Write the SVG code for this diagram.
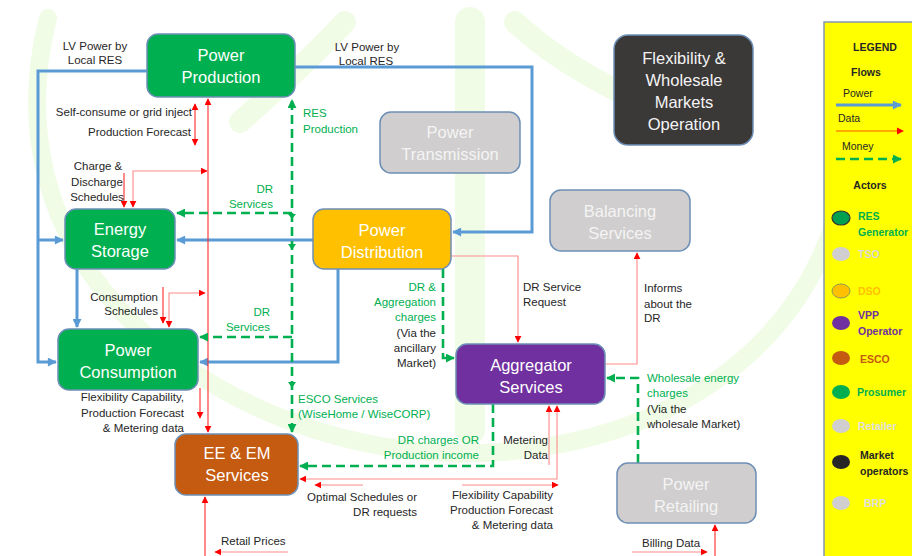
<svg xmlns="http://www.w3.org/2000/svg" width="912" height="556" viewBox="0 0 912 556">
  <style>
    .node rect { stroke: #6d8fb5; stroke-width: 1.5; }
    .ntxt { font-family: "Liberation Sans", Arial, sans-serif; font-size: 16.5px; fill: #ffffff; text-anchor: middle; }
    .gtxt { fill: #f4f4f4; }
    .lbl { font-family: "Liberation Sans", Arial, sans-serif; font-size: 11.5px; fill: #262626; }
    .glbl { fill: #00b050; }
    .r { text-anchor: end; }
    .m { text-anchor: middle; }
    .power { fill: none; stroke: #5b9bd5; stroke-width: 3; }
    .data { fill: none; stroke: #ff2a2a; stroke-width: 1.1; }
    .data2 { fill: none; stroke: #ff8a8a; stroke-width: 1.1; }
    .money { fill: none; stroke: #00b050; stroke-width: 2.6; stroke-dasharray: 9 5; }
    .wm { fill: none; stroke: #f0fce6; stroke-linecap: round; }
    .leg { font-family: "Liberation Sans", Arial, sans-serif; font-size: 10.5px; fill: #262626; }
    .act { font-family: "Liberation Sans", Arial, sans-serif; font-size: 10.5px; font-weight: bold; }
  </style>
  <defs>
    <marker id="ab" viewBox="0 0 10 10" refX="9" refY="5" markerWidth="10" markerHeight="9" markerUnits="userSpaceOnUse" orient="auto-start-reverse">
      <path d="M0,0 L10,5 L0,10 z" fill="#5b9bd5"/>
    </marker>
    <marker id="ar" viewBox="0 0 10 10" refX="9" refY="5" markerWidth="7" markerHeight="7" markerUnits="userSpaceOnUse" orient="auto-start-reverse">
      <path d="M0,0 L10,5 L0,10 z" fill="#ff0000"/>
    </marker>
    <marker id="ag" viewBox="0 0 10 10" refX="9" refY="5" markerWidth="9" markerHeight="9" markerUnits="userSpaceOnUse" orient="auto-start-reverse">
      <path d="M0,0 L10,5 L0,10 z" fill="#00b050"/>
    </marker>
  </defs>

  <rect width="912" height="556" fill="#ffffff"/>

  <!-- faint background logo -->
  <g id="watermark">
    <path class="wm" stroke-width="18" d="M48,18 C22,120 40,230 130,320 C220,410 360,462 500,452 C660,440 790,360 835,220"/>
    <path class="wm" stroke-width="30" d="M470,22 V430"/>
    <path class="wm" stroke-width="22" d="M240,122 C270,95 310,60 345,22"/>
    <path class="wm" stroke-width="22" d="M515,22 C545,50 585,75 620,92"/>
  </g>

  <!-- flows -->
  <g id="connectors">
    <!-- power -->
    <path class="power" d="M147,71 H38 V362 H56" marker-end="url(#ab)"/>
    <path class="power" d="M38,240 H63" marker-end="url(#ab)"/>
    <path class="power" d="M295,67 H532 V232 H453" marker-end="url(#ab)"/>
    <path class="power" d="M313,240 H177" marker-end="url(#ab)"/>
    <path class="power" d="M338,269 V362 H200" marker-end="url(#ab)"/>
    <path class="power" d="M77,269 V327" marker-end="url(#ab)"/>

    <!-- data -->
    <path class="data" d="M208,99 V432" marker-start="url(#ar)" marker-end="url(#ar)"/>
    <path class="data" d="M195,104 V145" marker-start="url(#ar)" marker-end="url(#ar)"/>
    <path class="data" d="M124,173 V207" marker-end="url(#ar)"/>
    <path class="data2" d="M207,171 H133 V207" marker-start="url(#ar)" marker-end="url(#ar)"/>
    <path class="data" d="M163,287 V323" marker-end="url(#ar)"/>
    <path class="data2" d="M205,293 H169 V327" marker-start="url(#ar)" marker-end="url(#ar)"/>
    <path class="data" d="M200,388 V418" marker-end="url(#ar)"/>
    <path class="data2" d="M557,406 V479 H300" marker-start="url(#ar)" marker-end="url(#ar)"/>
    <path class="data2" d="M363,485 H315" marker-end="url(#ar)"/>
    <path class="data2" d="M462,485 H558" marker-end="url(#ar)"/>
    <path class="data2" d="M549,465 V406" marker-end="url(#ar)"/>
    <path class="data" d="M205,556 V497" marker-end="url(#ar)"/>
    <path class="data2" d="M288,552 H215" marker-end="url(#ar)"/>
    <path class="data" d="M715,556 V525" marker-end="url(#ar)"/>
    <path class="data2" d="M632,552 H707" marker-end="url(#ar)"/>
    <path class="data2" d="M451,256 H518 V342" marker-end="url(#ar)"/>
    <path class="data2" d="M605,364 H637 V253" marker-end="url(#ar)"/>

    <!-- money -->
    <path class="money" d="M292,432 V100" marker-start="url(#ag)" marker-end="url(#ag)"/>
    <path class="money" d="M292,213 H177" marker-end="url(#ag)"/>
    <path class="money" d="M292,337 H200" marker-end="url(#ag)"/>
    <path class="money" d="M443,269 V358 H454" marker-end="url(#ag)"/>
    <path class="money" d="M638,463 V378 H607" marker-end="url(#ag)"/>
    <path class="money" d="M493,404 V466 H300" marker-end="url(#ag)"/>
    <path d="M288,244 H296 L292,250 z M288,382 H296 L292,388 z M288,214 H296 L292,219 z" fill="#00b050"/>
  </g>

  <!-- actors -->
  <g id="power-production" class="node">
    <rect x="147" y="34" width="148" height="63" rx="11" fill="#00b050"/>
    <text class="ntxt" x="221" y="61">Power</text>
    <text class="ntxt" x="221" y="83">Production</text>
  </g>
  <g id="markets-operation" class="node">
    <rect x="614" y="35" width="139" height="110" rx="14" fill="#3b3838"/>
    <text class="ntxt gtxt" x="684" y="64" font-size="15.5">Flexibility &amp;</text>
    <text class="ntxt gtxt" x="684" y="86" font-size="15.5">Wholesale</text>
    <text class="ntxt gtxt" x="684" y="108" font-size="15.5">Markets</text>
    <text class="ntxt gtxt" x="684" y="130" font-size="15.5">Operation</text>
  </g>
  <g id="power-transmission" class="node">
    <rect x="380" y="112" width="140" height="61" rx="11" fill="#d0cece"/>
    <text class="ntxt gtxt" x="450" y="138">Power</text>
    <text class="ntxt gtxt" x="450" y="160">Transmission</text>
  </g>
  <g id="balancing-services" class="node">
    <rect x="550" y="190" width="140" height="61" rx="11" fill="#d0cece"/>
    <text class="ntxt gtxt" x="620" y="217">Balancing</text>
    <text class="ntxt gtxt" x="620" y="239">Services</text>
  </g>
  <g id="energy-storage" class="node">
    <rect x="65" y="209" width="110" height="60" rx="11" fill="#00b050"/>
    <text class="ntxt" x="120" y="235">Energy</text>
    <text class="ntxt" x="120" y="257">Storage</text>
  </g>
  <g id="power-distribution" class="node">
    <rect x="313" y="209" width="138" height="60" rx="11" fill="#ffc000"/>
    <text class="ntxt" x="382" y="236">Power</text>
    <text class="ntxt" x="382" y="258">Distribution</text>
  </g>
  <g id="power-consumption" class="node">
    <rect x="58" y="329" width="140" height="61" rx="11" fill="#00b050"/>
    <text class="ntxt" x="128" y="356">Power</text>
    <text class="ntxt" x="128" y="378">Consumption</text>
  </g>
  <g id="aggregator-services" class="node">
    <rect x="456" y="344" width="149" height="60" rx="11" fill="#7030a0"/>
    <text class="ntxt" x="531" y="371">Aggregator</text>
    <text class="ntxt" x="531" y="393">Services</text>
  </g>
  <g id="ee-em-services" class="node">
    <rect x="175" y="434" width="123" height="61" rx="11" fill="#c55a11"/>
    <text class="ntxt" x="237" y="459">EE &amp; EM</text>
    <text class="ntxt" x="237" y="481">Services</text>
  </g>
  <g id="power-retailing" class="node">
    <rect x="617" y="463" width="139" height="60" rx="11" fill="#d0cece"/>
    <text class="ntxt gtxt" x="686" y="490">Power</text>
    <text class="ntxt gtxt" x="686" y="512">Retailing</text>
  </g>

  <!-- flow labels -->
  <g id="labels">
    <text class="lbl m" x="95" y="50">LV Power by</text>
    <text class="lbl m" x="95" y="64">Local RES</text>
    <text class="lbl m" x="367" y="51">LV Power by</text>
    <text class="lbl m" x="366" y="65">Local RES</text>
    <text class="lbl r" x="192" y="116">Self-consume or grid inject</text>
    <text class="lbl r" x="191" y="136">Production Forecast</text>
    <text class="lbl m" x="98" y="170">Charge &amp;</text>
    <text class="lbl m" x="97" y="186">Discharge</text>
    <text class="lbl m" x="97" y="201">Schedules</text>
    <text class="lbl glbl" x="303" y="117">RES</text>
    <text class="lbl glbl" x="303" y="133">Production</text>
    <text class="lbl glbl r" x="273" y="193">DR</text>
    <text class="lbl glbl r" x="273" y="208">Services</text>
    <text class="lbl r" x="158" y="301">Consumption</text>
    <text class="lbl r" x="158" y="315">Schedules</text>
    <text class="lbl glbl r" x="270" y="316">DR</text>
    <text class="lbl glbl r" x="270" y="331">Services</text>
    <text class="lbl r" x="184" y="401">Flexibility Capability,</text>
    <text class="lbl r" x="184" y="417">Production Forecast</text>
    <text class="lbl r" x="184" y="432">&amp; Metering data</text>
    <text class="lbl glbl" x="298" y="403">ESCO Services</text>
    <text class="lbl glbl" x="298" y="418">(WiseHome / WiseCORP)</text>
    <text class="lbl glbl r" x="436" y="291">DR &amp;</text>
    <text class="lbl glbl r" x="436" y="306">Aggregation</text>
    <text class="lbl glbl r" x="436" y="321">charges</text>
    <text class="lbl r" x="436" y="337">(Via the</text>
    <text class="lbl r" x="436" y="352">ancillary</text>
    <text class="lbl r" x="436" y="367">Market)</text>
    <text class="lbl" x="523" y="291">DR Service</text>
    <text class="lbl" x="523" y="306">Request</text>
    <text class="lbl" x="644" y="292">Informs</text>
    <text class="lbl" x="644" y="308">about the</text>
    <text class="lbl" x="644" y="322">DR</text>
    <text class="lbl glbl" x="647" y="382">Wholesale energy</text>
    <text class="lbl glbl" x="647" y="397">charges</text>
    <text class="lbl" x="647" y="413">(Via the</text>
    <text class="lbl" x="647" y="428">wholesale Market)</text>
    <text class="lbl glbl r" x="479" y="444">DR charges OR</text>
    <text class="lbl glbl r" x="479" y="459">Production income</text>
    <text class="lbl r" x="548" y="444">Metering</text>
    <text class="lbl r" x="548" y="459">Data</text>
    <text class="lbl r" x="417" y="501">Optimal Schedules or</text>
    <text class="lbl r" x="417" y="516">DR requests</text>
    <text class="lbl r" x="553" y="499">Flexibility Capability</text>
    <text class="lbl r" x="553" y="514">Production Forecast</text>
    <text class="lbl r" x="553" y="529">&amp; Metering data</text>
    <text class="lbl" x="221" y="545">Retail Prices</text>
    <text class="lbl" x="642" y="547">Billing Data</text>
  </g>

  <!-- legend panel -->
  <g id="legend">
    <rect x="824" y="22" width="95" height="540" fill="#ffff00" stroke="#8497b0" stroke-width="1.5"/>
    <text class="act" x="875" y="51" text-anchor="middle" fill="#262626" font-size="9.5">LEGEND</text>
    <text class="act" x="866" y="76" text-anchor="middle" fill="#262626">Flows</text>
    <text class="leg" x="843" y="97">Power</text>
    <path class="power" d="M836,105 H901" marker-end="url(#ab)"/>
    <text class="leg" x="838" y="122">Data</text>
    <path d="M836,131 H898" stroke="#ff8c00" stroke-width="1.3" fill="none"/>
    <path d="M897,127.5 L904,131 L897,134.5 z" fill="#ff0000"/>
    <text class="leg" x="842" y="150">Money</text>
    <path class="money" d="M836,159 H901" stroke-width="2" stroke-dasharray="6 6" marker-end="url(#ag)"/>
    <text class="act" x="870" y="189" text-anchor="middle" fill="#262626">Actors</text>

    <ellipse cx="841" cy="218" rx="9" ry="7" fill="#00a050" stroke="#333" stroke-width="1.2"/>
    <text class="act" x="858" y="220" fill="#00b050">RES</text>
    <text class="act" x="858" y="236" fill="#00b050">Generator</text>
    <ellipse cx="841" cy="254" rx="9" ry="7" fill="#d0cece"/>
    <text class="act" x="858" y="258" fill="#d9d9d9">TSO</text>
    <ellipse cx="841" cy="291" rx="9" ry="7" fill="#ffc000" stroke="#8a9a50" stroke-width="1"/>
    <text class="act" x="858" y="295" fill="#ffc000">DSO</text>
    <ellipse cx="841" cy="323" rx="9" ry="7" fill="#7030a0"/>
    <text class="act" x="858" y="319" fill="#7030a0">VPP</text>
    <text class="act" x="858" y="335" fill="#7030a0">Operator</text>
    <ellipse cx="841" cy="358" rx="9" ry="7" fill="#c55a11"/>
    <text class="act" x="860" y="363" fill="#c55a11">ESCO</text>
    <ellipse cx="841" cy="392" rx="9" ry="7" fill="#00b050"/>
    <text class="act" x="857" y="396" fill="#00b050">Prosumer</text>
    <ellipse cx="841" cy="426" rx="9" ry="7" fill="#d0cece"/>
    <text class="act" x="858" y="430" fill="#e0e0e0">Retailer</text>
    <ellipse cx="841" cy="462" rx="9" ry="7" fill="#262626"/>
    <text class="act" x="860" y="459" fill="#262626">Market</text>
    <text class="act" x="860" y="475" fill="#262626">operators</text>
    <ellipse cx="841" cy="503" rx="9" ry="7" fill="#d0cece"/>
    <text class="act" x="864" y="507" fill="#e0e0e0">BRP</text>
  </g>
</svg>
